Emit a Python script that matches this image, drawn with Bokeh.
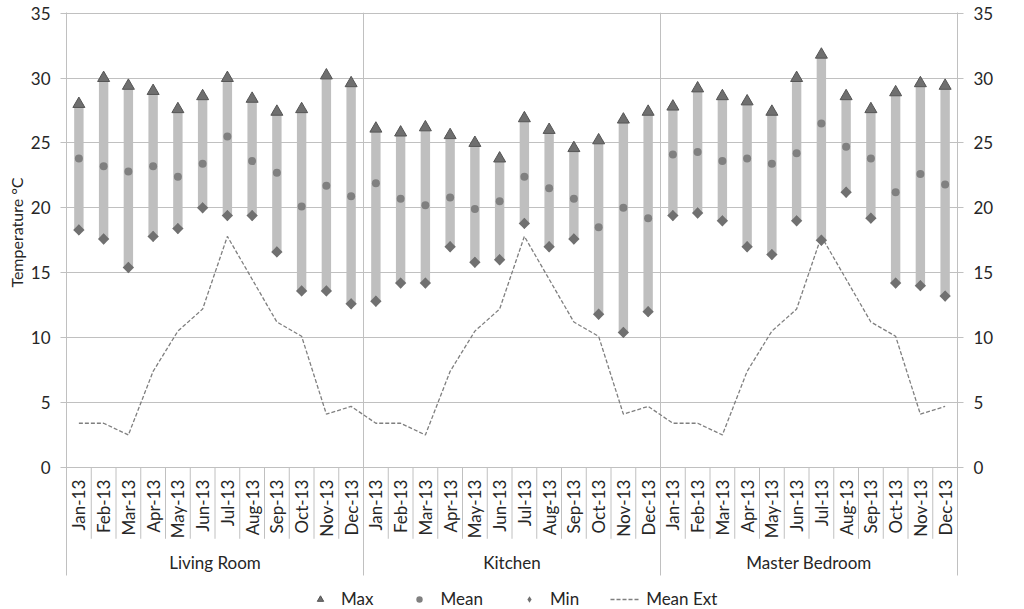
import math
from bokeh.plotting import figure
from bokeh.models import (Range1d, FixedTicker, LinearAxis, ColumnDataSource,
                          Legend, LegendItem, Title)
from bokeh.core.properties import value
from bokeh.embed import file_html
from bokeh.resources import INLINE

# ---------------- data ----------------
rooms = ["Living Room", "Kitchen", "Master Bedroom"]
months = ["Jan-13", "Feb-13", "Mar-13", "Apr-13", "May-13", "Jun-13",
          "Jul-13", "Aug-13", "Sep-13", "Oct-13", "Nov-13", "Dec-13"]

lr_max = [28.0, 30.0, 29.4, 29.0, 27.6, 28.6, 30.0, 28.4, 27.4, 27.6, 30.2, 29.6]
lr_mean = [23.8, 23.2, 22.8, 23.2, 22.4, 23.4, 25.5, 23.6, 22.7, 20.1, 21.7, 20.9]
lr_min = [18.3, 17.6, 15.4, 17.8, 18.4, 20.0, 19.4, 19.4, 16.6, 13.6, 13.6, 12.6]

k_max = [26.1, 25.8, 26.2, 25.6, 25.0, 23.8, 26.9, 26.0, 24.6, 25.2, 26.8, 27.4]
k_mean = [21.9, 20.7, 20.2, 20.8, 19.9, 20.5, 22.4, 21.5, 20.7, 18.5, 20.0, 19.2]
k_min = [12.8, 14.2, 14.2, 17.0, 15.8, 16.0, 18.8, 17.0, 17.6, 11.8, 10.4, 12.0]

mb_max = [27.8, 29.2, 28.6, 28.2, 27.4, 30.0, 31.8, 28.6, 27.6, 28.9, 29.6, 29.4]
mb_mean = [24.1, 24.3, 23.6, 23.8, 23.4, 24.2, 26.5, 24.7, 23.8, 21.2, 22.6, 21.8]
mb_min = [19.4, 19.6, 19.0, 17.0, 16.4, 19.0, 17.5, 21.2, 19.2, 14.2, 14.0, 13.2]

mean_ext = [3.4, 3.4, 2.5, 7.4, 10.5, 12.2, 17.8, 14.5, 11.2, 10.1, 4.1, 4.7]

y_ticks = [0, 5, 10, 15, 20, 25, 30, 35]

# ---------------- derived ----------------
n_m = len(months)
n = n_m * len(rooms)
xs = [i + 0.5 for i in range(n)]
all_max = lr_max + k_max + mb_max
all_mean = lr_mean + k_mean + mb_mean
all_min = lr_min + k_min + mb_min
all_ext = mean_ext * len(rooms)
all_months = months * len(rooms)

src = ColumnDataSource(dict(x=xs, top=all_max, mean=all_mean, bottom=all_min,
                            ext=all_ext, month=all_months))

Y_FRAME_BOTTOM = -10.95   # frame reaches down to hold the legend
Y_LINE_BOTTOM = -8.33     # where the outer / group lines stop
Y_TOP = 35.05
FONT = "Lato"
GRID = "#c0c0c0"
TXT = "#262626"

p = figure(width=1024, height=609, output_backend="svg", toolbar_location=None,
           x_range=Range1d(0, n), y_range=Range1d(Y_FRAME_BOTTOM, Y_TOP),
           x_axis_location=None, y_axis_location="left",
           min_border_left=66, min_border_right=67, min_border_top=12,
           min_border_bottom=0)
p.outline_line_color = None
p.background_fill_color = "white"
p.border_fill_color = "white"
p.xgrid.visible = False
p.ygrid.ticker = FixedTicker(ticks=y_ticks)
p.ygrid.grid_line_color = GRID
p.ygrid.grid_line_width = 1

def style_axis(ax):
    ax.ticker = FixedTicker(ticks=y_ticks)
    ax.bounds = (Y_LINE_BOTTOM, Y_TOP)
    ax.axis_line_color = GRID
    ax.major_tick_line_color = GRID
    ax.major_tick_out = 6
    ax.major_tick_in = 0
    ax.minor_tick_line_color = None
    ax.major_label_standoff = 10
    ax.major_label_text_font = FONT
    ax.major_label_text_font_size = "17px"
    ax.major_label_text_color = TXT

style_axis(p.yaxis[0])
right_ax = LinearAxis()
style_axis(right_ax)
p.add_layout(right_ax, "right")

# axis title (placed as a side title so it can sit beside the 0-35 span)
p.add_layout(Title(text="Temperature °C", align="right", offset=165,
                   text_font=FONT, text_font_size="16px", text_font_style="normal",
                   text_color=TXT, standoff=3), "left")

# separators between months (short) and rooms (full height)
sep_x = [i for i in range(1, n) if i % n_m != 0]
p.segment(x0=sep_x, y0=[0] * len(sep_x), x1=sep_x, y1=[-5.5] * len(sep_x),
          line_color=GRID, line_width=1)
grp_x = [i for i in range(1, n) if i % n_m == 0]
p.segment(x0=grp_x, y0=[Y_LINE_BOTTOM] * len(grp_x), x1=grp_x,
          y1=[Y_TOP] * len(grp_x), line_color=GRID, line_width=1)

# month labels
p.text(x="x", y=-0.95, text="month", source=src, angle=math.pi / 2,
       text_align="right", text_baseline="middle",
       text_font=value(FONT), text_font_size="17px", text_color=TXT)
# room labels
p.text(x=[(k + 0.5) * n_m for k in range(len(rooms))], y=[-7.3] * len(rooms),
       text=rooms, text_align="center", text_baseline="middle",
       text_font=value(FONT), text_font_size="17px", text_color=TXT)

# range bars
p.vbar(x="x", top="top", bottom="bottom", width=0.38, source=src,
       fill_color="#bfbfbf", line_color=None)

# mean external line
r_ext = p.line(x="x", y="ext", source=src, line_color="#7f7f7f",
               line_width=1.3, line_dash="4 2")

r_max = p.scatter(x="x", y="top", source=src, marker="triangle", size=12,
                  fill_color="#6f6f6f", line_color="#555555", line_width=1)
r_mean = p.scatter(x="x", y="mean", source=src, marker="circle", size=8,
                   fill_color="#808080", line_color=None)
# diamond used for the legend (covered in the plot by the rotated square)
r_min_leg = p.scatter(x="x", y="bottom", source=src, marker="diamond", size=11,
                      fill_color="#707070", line_color=None)
r_min = p.scatter(x="x", y="bottom", source=src, marker="square", size=8,
                  angle=math.pi / 4, fill_color="#707070", line_color=None)

legend = Legend(items=[LegendItem(label="Max", renderers=[r_max]),
                       LegendItem(label="Mean", renderers=[r_mean]),
                       LegendItem(label="Min", renderers=[r_min_leg]),
                       LegendItem(label="Mean Ext", renderers=[r_ext])],
                orientation="horizontal", location=(239, 0),
                label_text_font=FONT, label_text_font_size="17px",
                label_text_color=TXT, glyph_width=30, glyph_height=16,
                label_standoff=6, spacing=31, padding=2, margin=0,
                border_line_color=None, background_fill_alpha=0)
p.add_layout(legend)

open("out.html", "w").write(file_html(p, INLINE))
